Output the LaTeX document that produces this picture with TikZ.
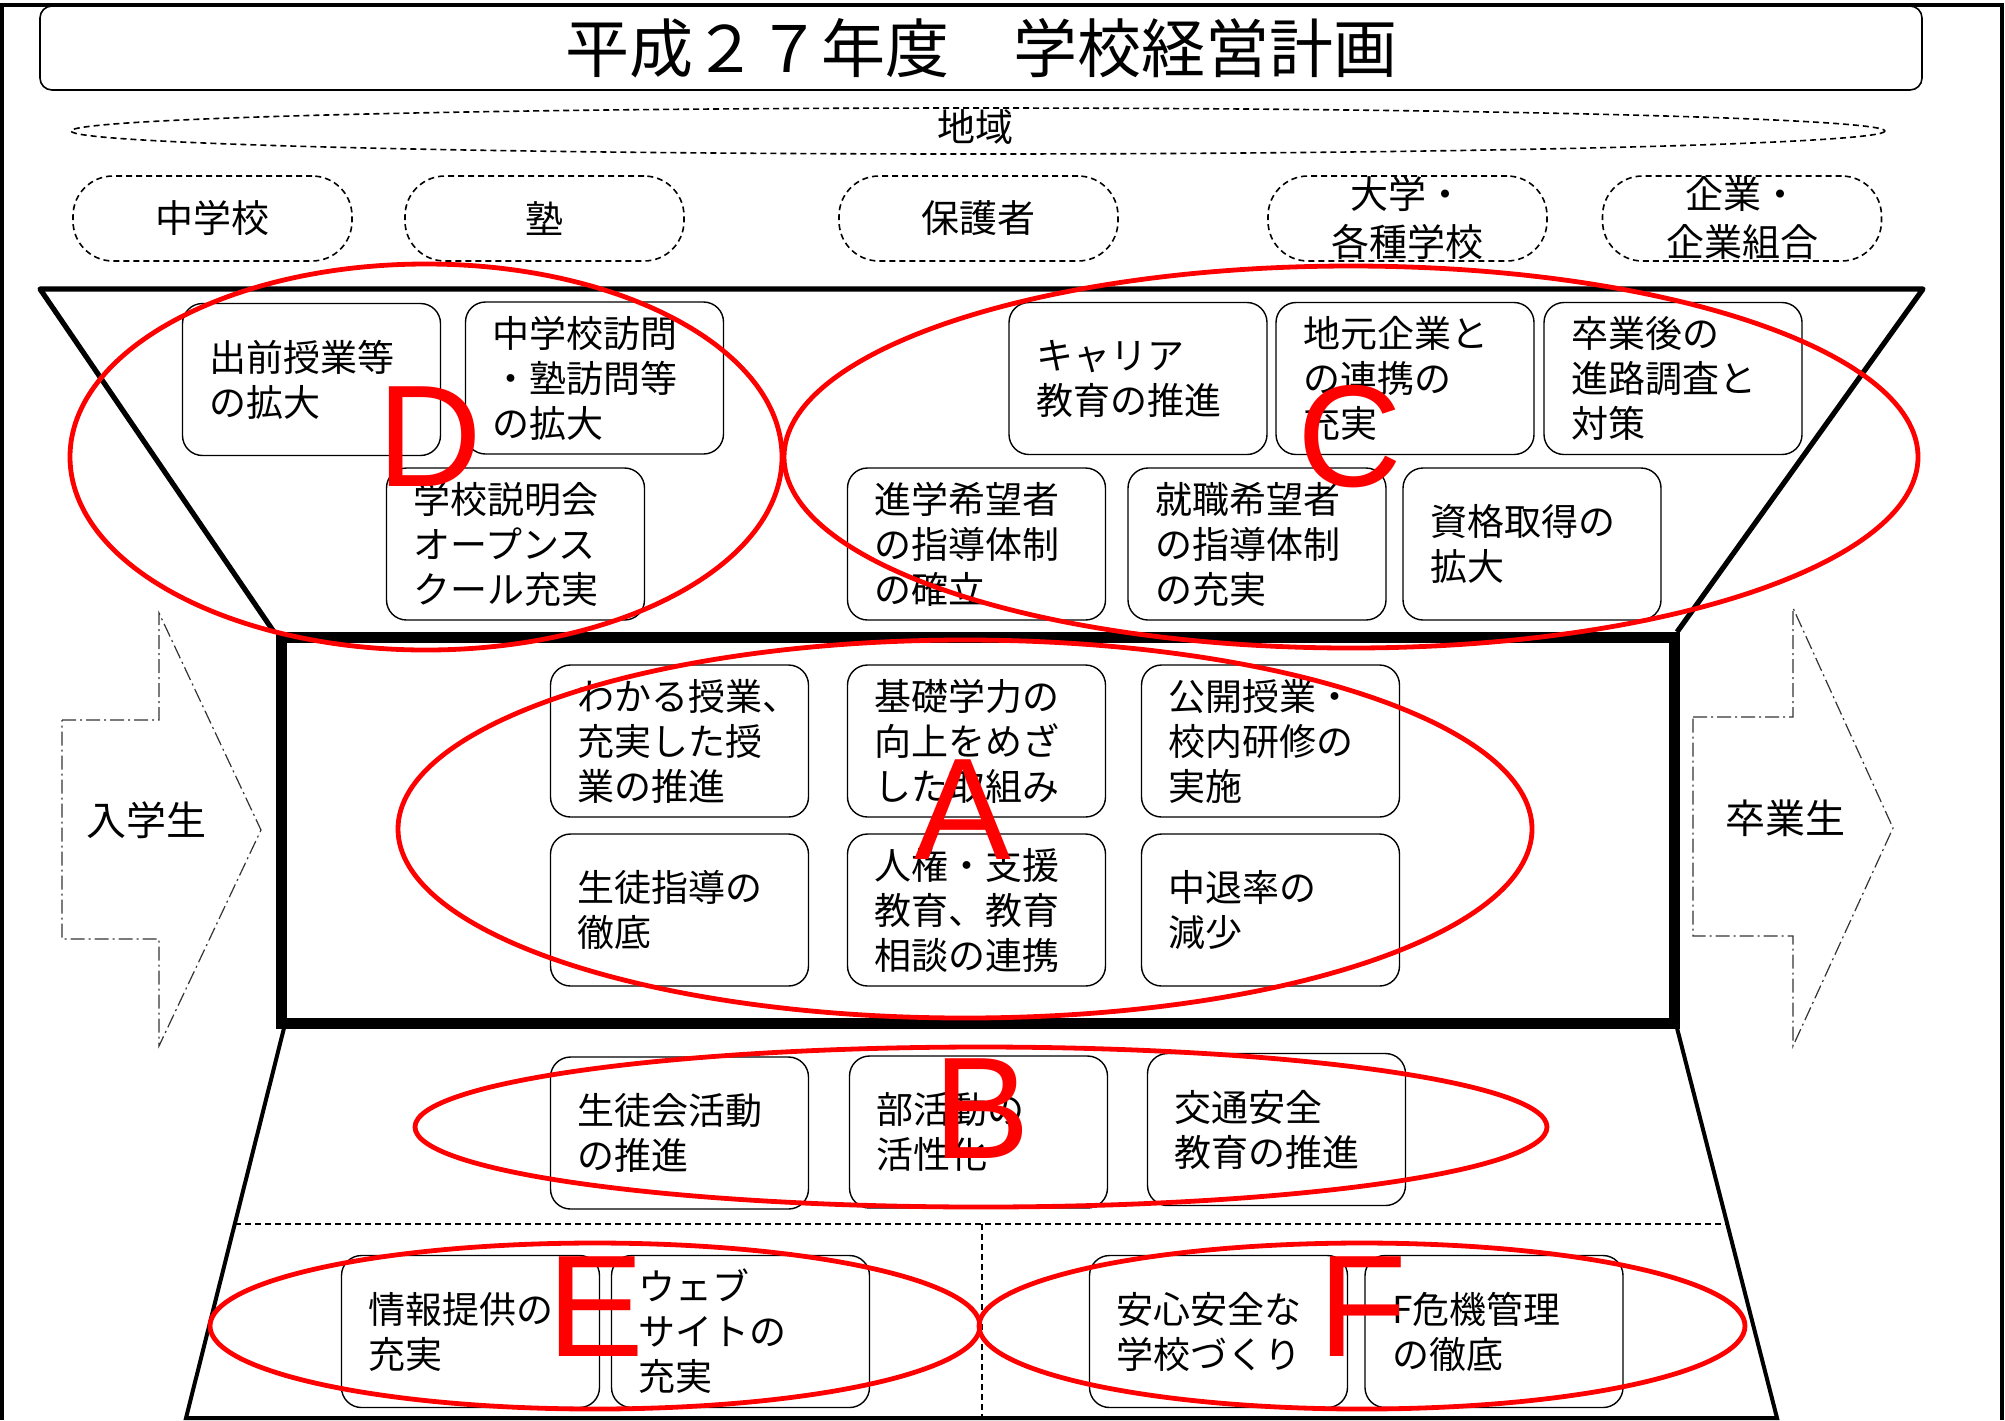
\documentclass[tikz,border=0pt]{standalone}
\usepackage{fontspec}
\setmainfont{Noto Sans CJK JP}
\newfontfamily\latinfont{Liberation Sans}
\begin{document}
\begin{tikzpicture}[x=0.5pt,y=-0.5pt,
  item/.style={draw, rounded corners=10pt, line width=0.7pt, fill=white,
    minimum width=129pt, minimum height=76pt, text width=102pt,
    inner xsep=13.5pt, inner ysep=0pt, align=left,
    font=\fontsize{18.5}{22.5}\selectfont},
  partner/.style={draw, dashed, dash pattern=on 3pt off 2pt, line width=0.8pt,
    rounded corners=20pt, minimum width=139.5pt, minimum height=42.5pt,
    align=center, inner sep=0pt, font=\fontsize{19}{24}\selectfont},
  redring/.style={draw=red, line width=2.4pt},
  redletter/.style={text=red, inner sep=0pt, font=\latinfont\fontsize{72.5}{72.5}\selectfont},
  flowarrow/.style={draw=black!80, line width=0.6pt, dash pattern=on 7pt off 2pt on 1pt off 2pt},
  sidelabel/.style={font=\fontsize{20}{24}\selectfont, inner sep=0pt},
  thickline/.style={line width=2.6pt, line join=round},
  midline/.style={line width=2pt},
  sepline/.style={line width=0.8pt, dash pattern=on 3pt off 2pt}
]
\useasboundingbox (0,0) rectangle (2005,1420);
% outer frame
\draw[line width=2pt] (2,1420) -- (2,5) -- (2002,5) -- (2002,1420);
% title
\node[draw, line width=0.8pt, rounded corners=6pt, minimum width=941pt, minimum height=42pt, inner sep=0pt,
  font=\fontsize{32}{36}\selectfont] (title) at (981,48) {平成２７年度　学校経営計画};
% region ellipse
\draw[sepline] (978,131) ellipse [x radius=907, y radius=23];
\node[font=\fontsize{19}{22}\selectfont, inner sep=0pt] (chiiki) at (975,127) {地域};
% partners
\node[partner] (p1) at (212.5,218.5) {中学校};
\node[partner] (p2) at (544.5,218.5) {塾};
\node[partner] (p3) at (978.5,218.5) {保護者};
\node[partner] (p4) at (1407.5,218.5) {大学・\\各種学校};
\node[partner] (p5) at (1742,218.5) {企業・\\企業組合};
% funnel top
\draw[thickline] (274,632) -- (40,289) -- (1923,289) -- (1677,632);
% central box
\draw[line width=5.5pt] (281,637) rectangle (1674,1023);
% lower trapezoid
\draw[midline] (284,1028) -- (186,1418) -- (1777,1418) -- (1677,1028);
\draw[sepline] (235,1224) -- (1727,1224);
\draw[sepline] (982,1224) -- (982,1418);
% arrows
\draw[flowarrow] (62,720) -- (159,720) -- (159,613) -- (261,830) -- (159,1046) -- (159,939) -- (62,939) -- cycle;
\node[sidelabel] (nyu) at (146,820) {入学生};
\draw[flowarrow] (1693,717) -- (1793,717) -- (1793,608) -- (1893,828) -- (1793,1046) -- (1793,936) -- (1693,936) -- cycle;
\node[sidelabel] (sotsu) at (1785,818) {卒業生};
% D boxes
\node[item] (d1) at (311.5,379.5) {出前授業等\\の拡大};
\node[item] (d2) at (594.5,378) {中学校訪問\\・塾訪問等\\の拡大};
\node[item] (d3) at (515.5,544) {学校説明会\\オープンス\\クール充実};
% C boxes
\node[item] (c1) at (1138,378.5) {キャリア\\教育の推進};
\node[item] (c2) at (1405,378.5) {地元企業と\\の連携の\\充実};
\node[item] (c3) at (1673,378.5) {卒業後の\\進路調査と\\対策};
\node[item] (c4) at (976.5,544) {進学希望者\\の指導体制\\の確立};
\node[item] (c5) at (1257,544) {就職希望者\\の指導体制\\の充実};
\node[item] (c6) at (1532,544) {資格取得の\\拡大};
% A boxes
\node[item] (a1) at (679.5,741) {わかる授業、\\充実した授\\業の推進};
\node[item] (a2) at (976.5,741) {基礎学力の\\向上をめざ\\した取組み};
\node[item] (a3) at (1270.5,741) {公開授業・\\校内研修の\\実施};
\node[item] (a4) at (679.5,910) {生徒指導の\\徹底};
\node[item] (a5) at (976.5,910) {人権・支援\\教育、教育\\相談の連携};
\node[item] (a6) at (1270.5,910) {中退率の\\減少};
% B boxes
\node[item] (b1) at (679.5,1133) {生徒会活動\\の推進};
\node[item] (b2) at (978.5,1132) {部活動の\\活性化};
\node[item] (b3) at (1276.5,1129.5) {交通安全\\教育の推進};
% E / F boxes
\node[item] (e1) at (470.5,1331.5) {情報提供の\\充実};
\node[item] (e2) at (740.5,1331.5) {ウェブ\\サイトの\\充実};
\node[item] (f1) at (1218.5,1331.5) {安心安全な\\学校づくり};
\node[item] (f2) at (1494,1331.5) {F危機管理\\の徹底};
% red rings
\draw[redring] (426,457) ellipse [x radius=356, y radius=193];
\draw[redring] (1351,457) ellipse [x radius=567, y radius=191];
\draw[redring] (965,829) ellipse [x radius=567, y radius=189];
\draw[redring] (981,1127) ellipse [x radius=566, y radius=80];
\draw[redring] (595,1326) ellipse [x radius=385, y radius=83];
\draw[redring] (1362,1326) ellipse [x radius=383, y radius=83];
% red letters
\node[redletter] (lD) at (430,437) {D};
\node[redletter] (lC) at (1350,437) {C};
\node[redletter] (lA) at (963,810) {A};
\node[redletter] (lB) at (982,1109) {B};
\node[redletter] (lE) at (596,1307) {E};
\node[redletter] (lF) at (1363,1307) {F};
\end{tikzpicture}
\end{document}
